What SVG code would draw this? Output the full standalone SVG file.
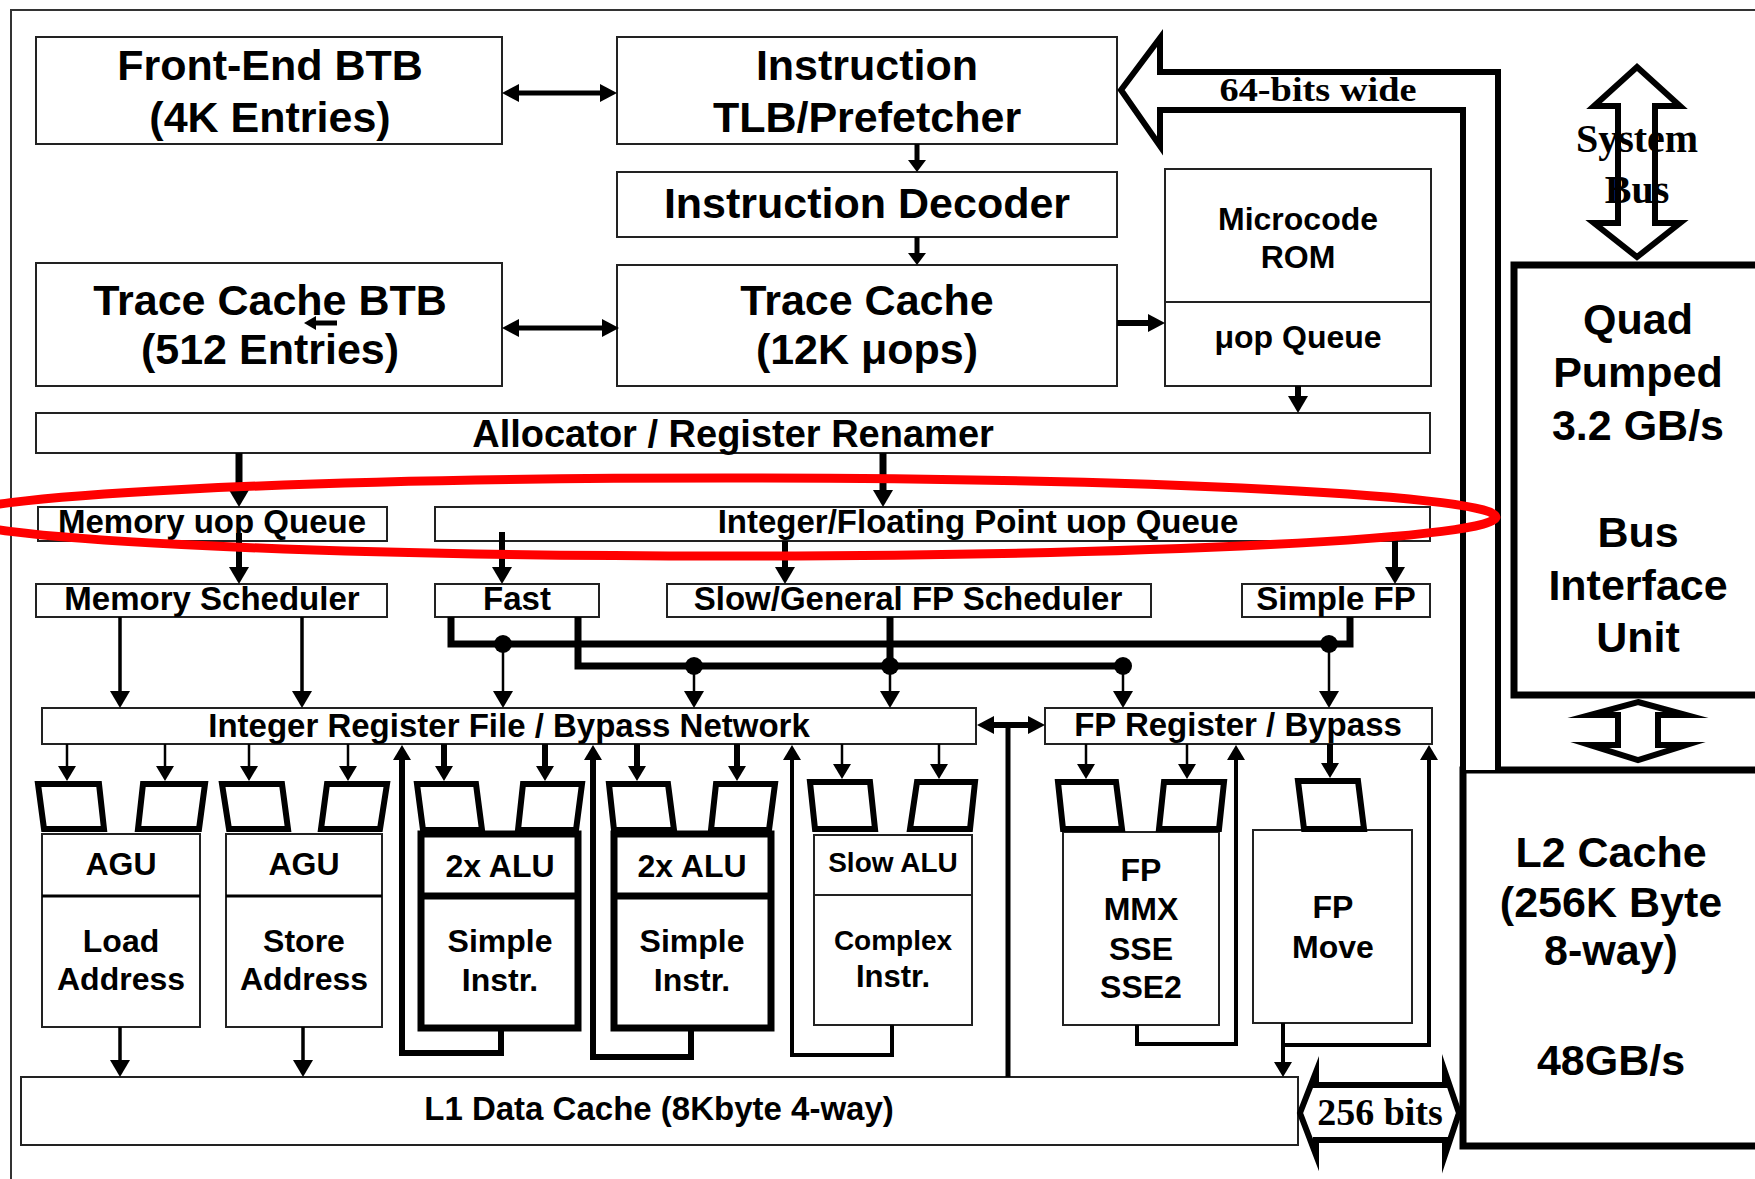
<svg xmlns="http://www.w3.org/2000/svg" width="1755" height="1179" viewBox="0 0 1755 1179">
<style>
.b{fill:#fff;stroke:#222;stroke-width:2}
.bk{fill:#fff;stroke:#000;stroke-width:7}
.mux{fill:#fff;stroke:#000;stroke-width:6;stroke-linejoin:miter}
.dv{stroke:#000;stroke-width:3}
.dvk{stroke:#000;stroke-width:7}
.ln{stroke:#000;fill:none;stroke-linejoin:miter}
.hol{fill:#fff;stroke:#000;stroke-width:6;stroke-linejoin:miter;stroke-miterlimit:10}
.t{font-family:"Liberation Sans",Arial,sans-serif;font-weight:bold;text-anchor:middle;fill:#000}
.s{font-family:"Liberation Serif","Times New Roman",serif;font-weight:bold;text-anchor:middle;fill:#000}
.f43{font-size:43px}.f38{font-size:38px}.f33{font-size:33px}.f32{font-size:32px}.f28{font-size:28px}.f31{font-size:31px}
</style>
<defs>
<path id="hD" d="M0,0 L-10,-17 L10,-17 Z"/>
<path id="hU" d="M0,0 L-10,17 L10,17 Z"/>
<path id="hL" d="M0,0 L17,-9 L17,9 Z"/>
<path id="hR" d="M0,0 L-17,-9 L-17,9 Z"/>
<path id="hDs" d="M0,0 L-9,-12 L9,-12 Z"/>
<path id="hDm" d="M0,0 L-9,-15 L9,-15 Z"/>
<path id="hUm" d="M0,0 L-9,15 L9,15 Z"/>
<path id="hLs" d="M0,0 L12,-7 L12,7 Z"/>
</defs>
<rect width="1755" height="1179" fill="#fff"/>
<path d="M11,1179 V10 H1755" fill="none" stroke="#333" stroke-width="2"/>

<g id="fe-btb"><rect class="b" x="36" y="37" width="466" height="107"/>
<text class="t f43" x="270" y="80">Front-End BTB</text><text class="t f43" x="270" y="132">(4K Entries)</text></g>
<g id="itlb"><rect class="b" x="617" y="37" width="500" height="107"/>
<text class="t f43" x="867" y="80">Instruction</text><text class="t f43" x="867" y="132">TLB/Prefetcher</text></g>
<g id="decoder"><rect class="b" x="617" y="172" width="500" height="65"/>
<text class="t f43" x="867" y="218">Instruction Decoder</text></g>
<g id="tc-btb"><rect class="b" x="36" y="263" width="466" height="123"/>
<text class="t f43" x="270" y="315">Trace Cache BTB</text><text class="t f43" x="270" y="364">(512 Entries)</text></g>
<g id="trace-cache"><rect class="b" x="617" y="265" width="500" height="121"/>
<text class="t f43" x="867" y="315">Trace Cache</text><text class="t f43" x="867" y="364">(12K μops)</text></g>
<g id="microcode"><rect class="b" x="1165" y="169" width="266" height="217"/><line x1="1165" y1="302" x2="1431" y2="302" stroke="#222" stroke-width="2"/>
<text class="t f32" x="1298" y="230">Microcode</text><text class="t f32" x="1298" y="268">ROM</text><text class="t f32" x="1298" y="348">μop Queue</text></g>
<g id="allocator"><rect class="b" x="36" y="413" width="1394" height="40"/>
<text class="t f38" x="733" y="447">Allocator / Register Renamer</text></g>
<g id="mem-queue"><rect class="b" x="38" y="507" width="349" height="34"/>
<text class="t f33" x="212" y="533">Memory uop Queue</text></g>
<g id="intfp-queue"><rect class="b" x="435" y="507" width="995" height="34"/>
<text class="t f33" x="978" y="533">Integer/Floating Point uop Queue</text></g>
<g id="mem-sched"><rect class="b" x="36" y="584" width="351" height="33"/>
<text class="t f33" x="212" y="610">Memory Scheduler</text></g>
<g id="fast-sched"><rect class="b" x="435" y="584" width="164" height="33"/>
<text class="t f33" x="517" y="610">Fast</text></g>
<g id="slow-sched"><rect class="b" x="667" y="584" width="484" height="33"/>
<text class="t f33" x="908" y="610">Slow/General FP Scheduler</text></g>
<g id="simplefp-sched"><rect class="b" x="1242" y="584" width="188" height="33"/>
<text class="t f33" x="1336" y="610">Simple FP</text></g>
<g id="int-regfile"><rect class="b" x="42" y="708" width="934" height="36"/>
<text class="t f33" x="509" y="737">Integer Register File / Bypass Network</text></g>
<g id="fp-regfile"><rect class="b" x="1045" y="708" width="387" height="36"/>
<text class="t f33" x="1238" y="736">FP Register / Bypass</text></g>

<g id="agu-load"><rect class="b" x="42" y="834" width="158" height="193"/><line class="dv" x1="42" y1="896" x2="200" y2="896"/>
<polygon class="mux" points="38,784 99,784 104,829 44,829"/><polygon class="mux" points="143,784 205,784 199,829 138,829"/>
<text class="t f32" x="121" y="875">AGU</text><text class="t f32" x="121" y="952">Load</text><text class="t f32" x="121" y="990">Address</text></g>
<g id="agu-store"><rect class="b" x="226" y="834" width="156" height="193"/><line class="dv" x1="226" y1="896" x2="382" y2="896"/>
<polygon class="mux" points="222,784 282,784 288,829 229,829"/><polygon class="mux" points="327,784 387,784 380,829 321,829"/>
<text class="t f32" x="304" y="875">AGU</text><text class="t f32" x="304" y="952">Store</text><text class="t f32" x="304" y="990">Address</text></g>
<g id="alu1"><rect class="bk" x="421" y="834" width="157" height="194"/><line class="dvk" x1="421" y1="896" x2="578" y2="896"/>
<polygon class="mux" points="417,784 476,784 482,830 423,830"/><polygon class="mux" points="523,784 582,784 576,830 518,830"/>
<text class="t f32" x="500" y="877">2x ALU</text><text class="t f32" x="500" y="952">Simple</text><text class="t f32" x="500" y="991">Instr.</text></g>
<g id="alu2"><rect class="bk" x="614" y="834" width="157" height="194"/><line class="dvk" x1="614" y1="896" x2="771" y2="896"/>
<polygon class="mux" points="609,784 668,784 674,830 614,830"/><polygon class="mux" points="716,784 775,784 769,830 711,830"/>
<text class="t f32" x="692" y="877">2x ALU</text><text class="t f32" x="692" y="952">Simple</text><text class="t f32" x="692" y="991">Instr.</text></g>
<g id="slow-alu"><rect class="b" x="814" y="835" width="158" height="190"/><line x1="814" y1="895" x2="972" y2="895" stroke="#222" stroke-width="2"/>
<polygon class="mux" points="810,782 870,782 875,829 815,829"/><polygon class="mux" points="917,782 975,782 970,829 910,829"/>
<text class="t f28" x="893" y="872">Slow ALU</text><text class="t f28" x="893" y="950">Complex</text><text class="t f31" x="893" y="987">Instr.</text></g>
<g id="fp-mmx"><rect class="b" x="1063" y="832" width="156" height="193"/>
<polygon class="mux" points="1058,782 1116,782 1122,829 1063,829"/><polygon class="mux" points="1164,782 1224,782 1219,829 1159,829"/>
<text class="t f32" x="1141" y="881">FP</text><text class="t f32" x="1141" y="920">MMX</text><text class="t f32" x="1141" y="960">SSE</text><text class="t f32" x="1141" y="998">SSE2</text></g>
<g id="fp-move"><rect class="b" x="1253" y="830" width="159" height="193"/>
<polygon class="mux" points="1298,781 1358,781 1364,829 1304,829"/>
<text class="t f32" x="1333" y="918">FP</text><text class="t f32" x="1333" y="958">Move</text></g>
<g id="l1-cache"><rect class="b" x="21" y="1077" width="1277" height="68"/>
<text class="t f33" x="659" y="1120">L1 Data Cache (8Kbyte 4-way)</text></g>
<g id="biu"><rect class="bk" x="1514" y="265" width="300" height="430"/>
<text class="t f43" x="1638" y="334">Quad</text><text class="t f43" x="1638" y="387">Pumped</text><text class="t f43" x="1638" y="440">3.2 GB/s</text>
<text class="t f43" x="1638" y="547">Bus</text><text class="t f43" x="1638" y="600">Interface</text><text class="t f43" x="1638" y="652">Unit</text></g>
<g id="l2-cache"><rect class="bk" x="1463" y="770" width="400" height="376"/>
<text class="t f43" x="1611" y="867">L2 Cache</text><text class="t f43" x="1611" y="917">(256K Byte</text><text class="t f43" x="1611" y="965">8-way)</text><text class="t f43" x="1611" y="1075">48GB/s</text></g>

<g id="connectors">
<line class="ln" stroke-width="5" x1="515" y1="93" x2="604" y2="93"/><use href="#hL" x="502" y="93"/><use href="#hR" x="617" y="93"/>
<line class="ln" stroke-width="5" x1="515" y1="328" x2="606" y2="328"/><use href="#hL" x="502" y="328"/><use href="#hR" x="619" y="328"/>
<line class="ln" stroke-width="5" x1="917" y1="144" x2="917" y2="162"/><use href="#hDs" x="917" y="172"/>
<line class="ln" stroke-width="5" x1="917" y1="237" x2="917" y2="255"/><use href="#hDs" x="917" y="265"/>
<line class="ln" stroke-width="6" x1="1117" y1="323" x2="1150" y2="323"/><use href="#hR" x="1165" y="323"/>
<line class="ln" stroke-width="6" x1="1298" y1="386" x2="1298" y2="398"/><use href="#hD" x="1298" y="413"/>
<line class="ln" stroke-width="5" x1="314" y1="323" x2="337" y2="323"/><use href="#hLs" x="304" y="323"/>
<line class="ln" stroke-width="7" x1="239" y1="453" x2="239" y2="492"/><use href="#hD" x="239" y="507"/>
<line class="ln" stroke-width="7" x1="883" y1="453" x2="883" y2="492"/><use href="#hD" x="883" y="507"/>
<line class="ln" stroke-width="6" x1="239" y1="533" x2="239" y2="569"/><use href="#hD" x="239" y="584"/>
<line class="ln" stroke-width="6" x1="502" y1="532" x2="502" y2="569"/><use href="#hD" x="502" y="584"/>
<line class="ln" stroke-width="6" x1="785" y1="541" x2="785" y2="569"/><use href="#hD" x="785" y="584"/>
<line class="ln" stroke-width="6" x1="1395" y1="532" x2="1395" y2="569"/><use href="#hD" x="1395" y="584"/>
<line class="ln" stroke-width="3.5" x1="120" y1="617" x2="120" y2="693"/><use href="#hD" x="120" y="708"/>
<line class="ln" stroke-width="3.5" x1="302" y1="617" x2="302" y2="693"/><use href="#hD" x="302" y="708"/>
<path class="ln" stroke-width="7" d="M451,617 V644 H1350 V617"/>
<path class="ln" stroke-width="7" d="M578,617 V666 H1123"/>
<path class="ln" stroke-width="7" d="M890,617 V666"/>
<circle cx="503" cy="644" r="9"/><circle cx="1329" cy="644" r="9"/><circle cx="694" cy="666" r="9"/><circle cx="890" cy="666" r="9"/><circle cx="1123" cy="666" r="9"/>
<line class="ln" stroke-width="2.5" x1="503" y1="644" x2="503" y2="693"/><use href="#hD" x="503" y="708"/>
<line class="ln" stroke-width="2.5" x1="694" y1="666" x2="694" y2="693"/><use href="#hD" x="694" y="708"/>
<line class="ln" stroke-width="2.5" x1="890" y1="666" x2="890" y2="693"/><use href="#hD" x="890" y="708"/>
<line class="ln" stroke-width="2.5" x1="1123" y1="666" x2="1123" y2="693"/><use href="#hD" x="1123" y="708"/>
<line class="ln" stroke-width="2.5" x1="1329" y1="644" x2="1329" y2="693"/><use href="#hD" x="1329" y="708"/>
<line class="ln" stroke-width="6" x1="990" y1="725" x2="1032" y2="725"/><use href="#hL" x="977" y="725"/><use href="#hR" x="1045" y="725"/>
<line class="ln" stroke-width="5" x1="1008" y1="725" x2="1008" y2="1077"/>
<g stroke="#000" stroke-width="2.5">
<line x1="67" y1="744" x2="67" y2="768"/><line x1="165" y1="744" x2="165" y2="768"/><line x1="249" y1="744" x2="249" y2="768"/><line x1="348" y1="744" x2="348" y2="768"/>
<line x1="842" y1="744" x2="842" y2="766"/><line x1="939" y1="744" x2="939" y2="766"/>
<line x1="1086" y1="744" x2="1086" y2="766"/><line x1="1187" y1="744" x2="1187" y2="766"/>
</g>
<g stroke="#000" stroke-width="6">
<line x1="444" y1="744" x2="444" y2="768"/><line x1="545" y1="744" x2="545" y2="768"/><line x1="637" y1="744" x2="637" y2="768"/><line x1="737" y1="744" x2="737" y2="768"/>
<line x1="1330" y1="744" x2="1330" y2="766"/>
</g>
<use href="#hDm" x="67" y="781"/><use href="#hDm" x="165" y="781"/><use href="#hDm" x="249" y="781"/><use href="#hDm" x="348" y="781"/>
<use href="#hDm" x="444" y="781"/><use href="#hDm" x="545" y="781"/><use href="#hDm" x="637" y="781"/><use href="#hDm" x="737" y="781"/>
<use href="#hDm" x="842" y="779"/><use href="#hDm" x="939" y="779"/><use href="#hDm" x="1086" y="779"/><use href="#hDm" x="1187" y="779"/><use href="#hDm" x="1330" y="778"/>
<path class="ln" stroke-width="6" d="M501,1028 V1053 H402 V758"/><use href="#hUm" x="402" y="745"/>
<path class="ln" stroke-width="6" d="M691,1028 V1057 H593 V758"/><use href="#hUm" x="593" y="745"/>
<path class="ln" stroke-width="4" d="M892,1025 V1055 H792 V758"/><use href="#hUm" x="792" y="745"/>
<path class="ln" stroke-width="4" d="M1137,1025 V1044 H1236 V758"/><use href="#hUm" x="1236" y="745"/>
<path class="ln" stroke-width="4" d="M1283,1023 V1045 H1429 V758"/><use href="#hUm" x="1429" y="745"/>
<line class="ln" stroke-width="4" x1="1283" y1="1023" x2="1283" y2="1064"/><use href="#hDm" x="1283" y="1077"/>
<line class="ln" stroke-width="3.5" x1="120" y1="1027" x2="120" y2="1062"/><use href="#hD" x="120" y="1077"/>
<line class="ln" stroke-width="3.5" x1="303" y1="1027" x2="303" y2="1062"/><use href="#hD" x="303" y="1077"/>
</g>

<g id="bus-64bit">
<path class="hol" fill="none" d="M1463,770 V110 H1160 V146 L1121,90 L1160,38 V72 H1498 V770"/>
<text class="s" font-size="34" x="1318" y="101" textLength="197" lengthAdjust="spacingAndGlyphs">64-bits wide</text>
</g>
<g id="system-bus">
<polygon class="hol" stroke-width="5" points="1637,67 1680,106 1655,106 1655,223 1680,223 1637,257 1594,223 1618,223 1618,106 1594,106"/>
<text class="s" font-size="40" x="1637" y="152">System</text><text class="s" font-size="40" x="1637" y="203">Bus</text>
</g>
<g id="biu-l2-link">
<polygon class="hol" stroke-width="7" points="1638,702 1686,715 1658,715 1658,745 1686,745 1638,760 1590,745 1618,745 1618,715 1590,715"/>
</g>
<g id="bus-256bit">
<polygon class="hol" points="1300,1113 1316,1072 1316,1085 1445,1085 1445,1072 1459,1113 1445,1155 1445,1140 1316,1140 1316,1155"/>
<text class="s" font-size="38" x="1380" y="1125">256 bits</text>
</g>

<ellipse cx="726" cy="517" rx="770" ry="39" fill="none" stroke="#f00" stroke-width="9"/>
</svg>
